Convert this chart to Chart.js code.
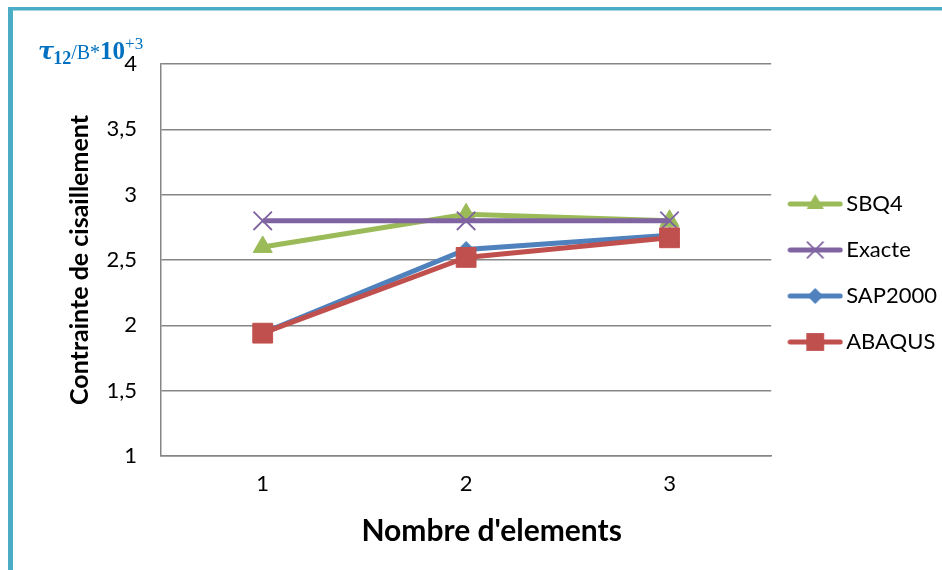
<!DOCTYPE html>
<html>
<head>
<meta charset="utf-8">
<script src="https://cdn.jsdelivr.net/npm/chart.js@4/dist/chart.umd.min.js"></script>
<style>
  html, body { margin: 0; padding: 0; background: #fff; overflow: hidden; }
  #wrap { position: relative; width: 942px; height: 570px; }
  #frame {
    position: absolute; left: 8px; top: 7px; width: 980px; height: 560px;
    border-top: 3px solid #4bacc6; border-left: 5px solid #4bacc6;
    border-bottom: 2px solid #92cddc; box-sizing: content-box;
  }
  #frame::before {
    content: ""; position: absolute; left: 0; top: 0; right: 0; height: 1px; background: #a5d5e2;
  }
  #unit {
    position: absolute; left: 38px; top: 36px; height: 30px; line-height: 30px; color: #0070c0;
    font-family: "Liberation Serif", "DejaVu Serif", serif; font-size: 20px; white-space: nowrap;
  }
  #unit .tau { font-family: "DejaVu Serif", serif; font-style: italic; font-weight: bold; font-size: 24px; }
  #unit sub { font-size: 18px; font-weight: bold; vertical-align: -5px; line-height: 0; margin-left: -1px; }
  #unit .ten { font-weight: bold; font-size: 25px; }
  #unit sup { font-size: 17px; vertical-align: 10px; line-height: 0; }
  canvas { position: absolute; left: 0; top: 0; }
</style>
</head>
<body>
<div id="wrap">
  <div id="frame"></div>
  <canvas id="c" width="942" height="570"></canvas>
  <div id="unit"><span class="tau">τ</span><sub>12</sub>/B*<span class="ten">10</span><sup>+3</sup></div>
</div>
<script>
// Number of elements used in the mesh
const categories = ['1', '2', '3'];

// Shear stress results for each method
const sbq4    = [2.6, 2.85, 2.8];
const exacte  = [2.8, 2.8, 2.8];
const sap2000 = [1.94, 2.58, 2.69];
const abaqus  = [1.94, 2.52, 2.67];

const seriesNames = ['SBQ4', 'Exacte', 'SAP2000', 'ABAQUS'];
const yMin = 1, yMax = 4, yStep = 0.5;

const FONT = 'Lato, "Open Sans", sans-serif';

// small legend sample: a line segment with the series marker in the middle
function legendSample(color, style, r) {
  const w = 56, h = 26;
  const cv = document.createElement('canvas');
  cv.width = w; cv.height = h;
  const g = cv.getContext('2d');
  const cx = w / 2, cy = h / 2;
  g.strokeStyle = color; g.fillStyle = color;
  g.lineWidth = 5; g.lineCap = 'round';
  g.beginPath(); g.moveTo(3, cy); g.lineTo(w - 3, cy); g.stroke();
  g.beginPath();
  if (style === 'triangle') {
    g.moveTo(cx, cy - r);
    g.lineTo(cx + r * 0.866, cy + r * 0.5);
    g.lineTo(cx - r * 0.866, cy + r * 0.5);
    g.closePath(); g.fill();
  } else if (style === 'crossRot') {
    const d = r * Math.SQRT1_2;
    g.lineWidth = 1.8; g.lineCap = 'butt';
    g.moveTo(cx - d, cy - d); g.lineTo(cx + d, cy + d);
    g.moveTo(cx + d, cy - d); g.lineTo(cx - d, cy + d);
    g.stroke();
  } else if (style === 'rectRot') {
    g.moveTo(cx, cy - r); g.lineTo(cx + r, cy); g.lineTo(cx, cy + r); g.lineTo(cx - r, cy);
    g.closePath(); g.fill();
  } else {
    const s = r * Math.SQRT1_2;
    g.fillRect(cx - s, cy - s, 2 * s, 2 * s);
  }
  return cv;
}

const styles = [
  { color: '#9bbb59', point: 'triangle', radius: 11, pbw: 1 },
  { color: '#8064a2', point: 'crossRot', radius: 13, pbw: 1.8 },
  { color: '#4f81bd', point: 'rectRot',  radius: 8,  pbw: 1 },
  { color: '#c0504d', point: 'rect',     radius: 14, pbw: 1 }
];
const values = [sbq4, exacte, sap2000, abaqus];

const datasets = values.map((vals, i) => ({
  label: seriesNames[i],
  data: vals,
  borderColor: styles[i].color,
  backgroundColor: styles[i].color,
  borderWidth: 5,
  pointStyle: styles[i].point,
  pointRadius: styles[i].radius,
  pointHoverRadius: styles[i].radius,
  pointBorderWidth: styles[i].pbw,
  pointBorderColor: styles[i].color,
  pointBackgroundColor: styles[i].color,
  tension: 0,
  fill: false,
  order: values.length - i,
  legendSample: legendSample(styles[i].color, styles[i].point, styles[i].radius * (styles[i].point === 'rectRot' ? 1 : 0.9))
}));

new Chart(document.getElementById('c'), {
  type: 'line',
  data: { labels: categories, datasets },
  options: {
    responsive: false,
    animation: false,
    layout: { padding: { left: 58, top: 64, right: -5, bottom: 16 } },
    plugins: {
      tooltip: { enabled: false },
      legend: {
        position: 'right',
        fullSize: false,
        title: { display: true, text: ' ', font: { size: 10 }, padding: { top: 7, bottom: 7 } },
        labels: {
          usePointStyle: true,
          pointStyleWidth: 40,
          padding: 24,
          color: '#000',
          font: { family: FONT, size: 22 },
          generateLabels(chart) {
            return chart.data.datasets.map((ds, i) => ({
              text: ds.label,
              pointStyle: ds.legendSample,
              fillStyle: ds.borderColor,
              strokeStyle: ds.borderColor,
              lineWidth: 0,
              hidden: false,
              datasetIndex: i,
              fontColor: '#000'
            }));
          }
        }
      }
    },
    scales: {
      x: {
        type: 'category',
        offset: true,
        grid: { color: 'rgba(0,0,0,0)', drawTicks: false },
        border: { display: true, color: '#868686', width: 1.5 },
        ticks: { color: '#000', font: { family: FONT, size: 22 }, padding: 15 },
        title: {
          display: true, text: "\u00a0\u00a0\u00a0\u00a0\u00a0\u00a0\u00a0Nombre d'elements", color: '#000',
          font: { family: FONT, size: 30, weight: 'bold' },
          padding: { top: 0, bottom: 5 }
        },
        afterFit(scale) { scale.height = 98; }
      },
      y: {
        min: yMin, max: yMax,
        ticks: {
          stepSize: yStep, color: '#000', padding: 24,
          font: { family: FONT, size: 22 },
          callback: v => String(v).replace('.', ',')
        },
        grid: { color: '#868686', lineWidth: 1.5, drawTicks: false },
        border: { display: true, color: '#868686', width: 1.5 },
        title: {
          display: true, text: 'Contrainte de cisaillement', color: '#000',
          font: { family: FONT, size: 25, weight: 'bold' },
          padding: { top: 7, bottom: 0 }
        },
        afterFit(scale) { scale.width = 103; }
      }
    }
  }
});
</script>
</body>
</html>
